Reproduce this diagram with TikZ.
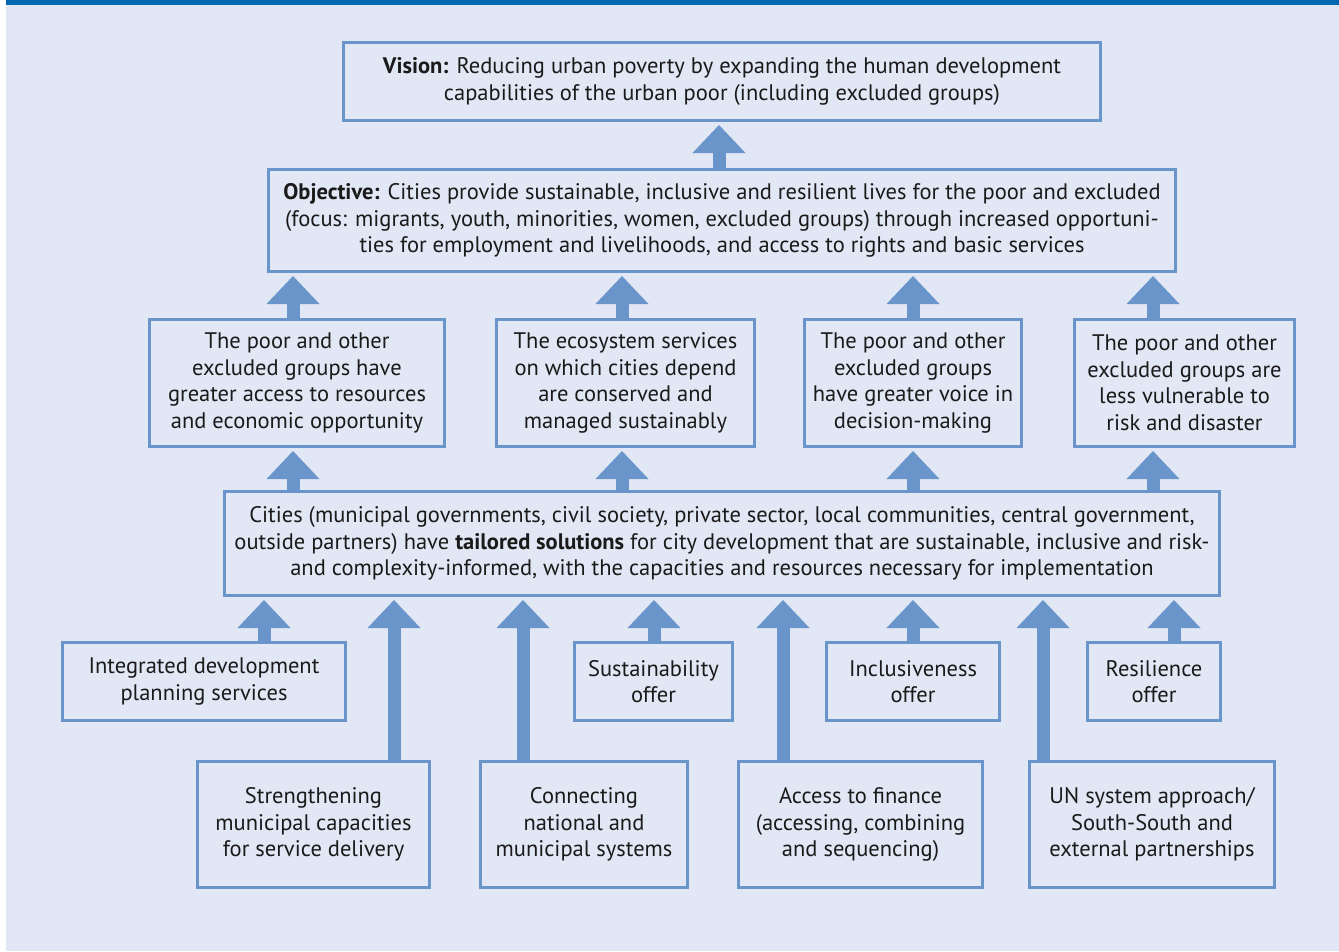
\documentclass[tikz,border=0pt]{standalone}
\usepackage{fontspec}
\setmainfont{PT Sans}
\usetikzlibrary{arrows.meta}
\definecolor{bg}{HTML}{E1E7F4}
\definecolor{bar}{HTML}{0068B3}
\definecolor{frame}{HTML}{6A95CB}
\definecolor{txt}{HTML}{1A1A1A}
\begin{document}
\begin{tikzpicture}[x=1pt,y=-1pt,
  box/.style={draw=frame, line width=3pt, align=center, inner sep=0pt,
    font=\fontsize{22.5}{26.5}\selectfont, text=txt},
  uparrow/.style={draw=frame, line width=13pt,
    -{Triangle[width=53pt,length=28pt,line width=0pt]}, shorten >=3pt},
]
\useasboundingbox (0,0) rectangle (1339,951);
\fill[white] (0,0) rectangle (1339,951);
\fill[bg] (6,0) rectangle (1339,951);
\fill[bar] (6,0) rectangle (1339,5);

% top levels
\node[box, minimum width=757pt, minimum height=78pt] (vision) at (722,81.5)
  {\textbf{Vision:} Reducing urban poverty by expanding the human development\\capabilities of the urban poor (including excluded groups)};
\node[box, minimum width=907pt, minimum height=102pt] (obj) at (722,220.5)
  {\textbf{Objective:} Cities provide sustainable, inclusive and resilient lives for the poor and excluded\\(focus: migrants, youth, minorities, women, excluded groups) through increased opportuni-\\ties for employment and livelihoods, and access to rights and basic services};

% row 2
\node[box, minimum width=295pt, minimum height=127pt] (r2a) at (297,383)
  {The poor and other\\excluded groups have\\greater access to resources\\and economic opportunity};
\node[box, minimum width=258pt, minimum height=127pt] (r2b) at (625.5,383)
  {The ecosystem services\\on which cities depend\\are conserved and\\managed sustainably};
\node[box, minimum width=217pt, minimum height=127pt] (r2c) at (913,383)
  {The poor and other\\excluded groups\\have greater voice in\\decision-making};
\node[box, minimum width=220pt, minimum height=127pt] (r2d) at (1184.5,383)
  {The poor and other\\excluded groups are\\less vulnerable to\\risk and disaster};

% cities
\node[box, minimum width=995pt, minimum height=104pt] (cities) at (722,543.5)
  {Cities (municipal governments, civil society, private sector, local communities, central government,\\outside partners) have \textbf{tailored solutions} for city development that are sustainable, inclusive and risk-\\and complexity-informed, with the capacities and resources necessary for implementation};

% row 3
\node[box, minimum width=283pt, minimum height=78pt] (r3a) at (204,681.5)
  {Integrated development\\planning services};
\node[box, minimum width=158pt, minimum height=78pt] (r3b) at (653.5,681.5)
  {Sustainability\\offer};
\node[box, minimum width=173pt, minimum height=78pt] (r3c) at (913,681.5)
  {Inclusiveness\\offer};
\node[box, minimum width=133pt, minimum height=78pt] (r3d) at (1154,681.5)
  {Resilience\\offer};

% row 4
\node[box, minimum width=232pt, minimum height=126pt] (r4a) at (313.5,824.5)
  {Strengthening\\municipal capacities\\for service delivery};
\node[box, minimum width=207pt, minimum height=126pt] (r4b) at (584,824.5)
  {Connecting\\national and\\municipal systems};
\node[box, minimum width=244pt, minimum height=126pt] (r4c) at (860.5,824.5)
  {Access to finance\\(accessing, combining\\and sequencing)};
\node[box, minimum width=245pt, minimum height=126pt] (r4d) at (1152,824.5)
  {UN system approach/\\South-South and\\external partnerships};

% arrows
\draw[uparrow] (719,0 |- obj.north) -- (719,0 |- vision.south);

\draw[uparrow] (293,0 |- r2a.north) -- (293,0 |- obj.south);
\draw[uparrow] (622,0 |- r2b.north) -- (622,0 |- obj.south);
\draw[uparrow] (913,0 |- r2c.north) -- (913,0 |- obj.south);
\draw[uparrow] (1153,0 |- r2d.north) -- (1153,0 |- obj.south);

\draw[uparrow] (293,0 |- cities.north) -- (293,0 |- r2a.south);
\draw[uparrow] (622,0 |- cities.north) -- (622,0 |- r2b.south);
\draw[uparrow] (913,0 |- cities.north) -- (913,0 |- r2c.south);
\draw[uparrow] (1153,0 |- cities.north) -- (1153,0 |- r2d.south);

\draw[uparrow] (264,0 |- r3a.north) -- (264,0 |- cities.south);
\draw[uparrow] (654,0 |- r3b.north) -- (654,0 |- cities.south);
\draw[uparrow] (913,0 |- r3c.north) -- (913,0 |- cities.south);
\draw[uparrow] (1174,0 |- r3d.north) -- (1174,0 |- cities.south);

\draw[uparrow] (394,0 |- r4a.north) -- (394,0 |- cities.south);
\draw[uparrow] (523,0 |- r4b.north) -- (523,0 |- cities.south);
\draw[uparrow] (783,0 |- r4c.north) -- (783,0 |- cities.south);
\draw[uparrow] (1043,0 |- r4d.north) -- (1043,0 |- cities.south);
\end{tikzpicture}
\end{document}
